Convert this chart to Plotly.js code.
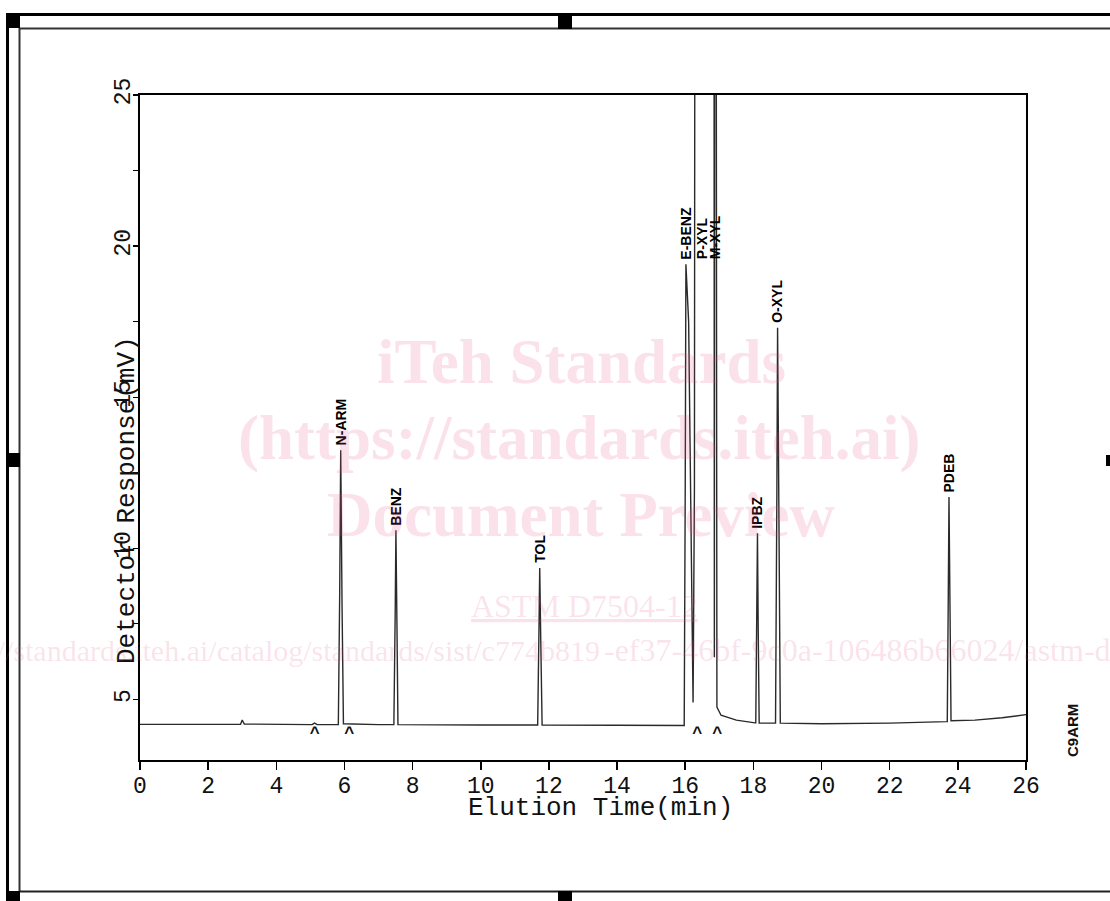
<!DOCTYPE html>
<html>
<head>
<meta charset="utf-8">
<script src="https://cdn.plot.ly/plotly-3.0.1.min.js"></script>
<style>
  html, body { margin: 0; padding: 0; background: #ffffff; }
  #chart { width: 1110px; height: 901px; }
</style>
</head>
<body>
<div id="chart"></div>
<script>
// ---------------- DATA ----------------
// Elution time (min) and detector response (mV) of the trace
const time = [
  0.00, 2.95, 3.00, 3.06, 5.05, 5.12, 5.20,
  5.82, 5.86, 5.89, 5.93, 5.97,
  7.00, 7.45, 7.49, 7.51, 7.54, 7.57,
  10.00, 11.67, 11.71, 11.73, 11.76, 11.80,
  14.00, 15.97, 16.00, 16.02, 16.10, 16.17, 16.23, 16.27, 16.29,
  16.84, 16.855, 16.87, 16.90, 16.93, 17.05, 17.50, 18.05,
  18.07, 18.10, 18.12, 18.14, 18.17,
  18.60, 18.65, 18.69, 18.71, 18.75, 18.79,
  20.00, 22.00, 23.67, 23.69, 23.72, 23.74, 23.77, 23.80,
  24.50, 25.30, 26.00
];
const response = [
  4.18, 4.18, 4.32, 4.19, 4.17, 4.22, 4.17,
  4.17, 8.50, 13.25, 8.00, 4.20,
  4.17, 4.17, 8.00, 10.60, 7.50, 4.17,
  4.16, 4.16, 7.50, 9.35, 7.00, 4.16,
  4.15, 4.14, 12.00, 19.40, 17.50, 11.00, 4.90, 12.00, 40.00,
  40.00, 6.40, 40.00, 40.00, 4.75, 4.48, 4.32, 4.23,
  4.23, 8.00, 10.50, 7.50, 4.22,
  4.22, 4.22, 12.00, 17.30, 11.00, 4.22,
  4.20, 4.22, 4.27, 4.27, 8.50, 11.70, 8.00, 4.30,
  4.32, 4.40, 4.50
];

// Peak identification labels
const peakNames    = ["N-ARM", "BENZ", "TOL", "E-BENZ", "P-XYL", "M-XYL", "IPBZ", "O-XYL", "PDEB"];
const labelTimes   = [5.89, 7.51, 11.73, 16.02, 16.49, 16.87, 18.12, 18.71, 23.74];
const labelHeights = [13.25, 10.60, 9.35, 19.40, 19.40, 19.40, 10.50, 17.30, 11.70];

// Integration markers (^) under the baseline
const caretTimes = [5.13, 6.14, 16.35, 16.94];
const caretLevel = [3.88, 3.88, 3.88, 3.88];

// Texts
const xTitle = "Elution Time(min)";
const yTitle = "Detector Response(mV)";
const sampleName = "C9ARM";
const watermarkLines = ["iTeh Standards", "(https://standards.iteh.ai)", "Document Preview"];
const watermarkStd = "ASTM D7504-12";
const watermarkUrlA = "https://standards.iteh.ai/catalog/standards/sist/c774b819";
const watermarkUrlB = "-ef37-46bf-9c0a-106486b66024/astm-d7504-12";

// ---------------- LAYOUT GEOMETRY ----------------
const W = 1110, H = 901;
const ML = 140, MT = 95, MR = 84, MB = 141;
const PW = W - ML - MR, PH = H - MT - MB;
const px = x => (x - ML) / PW;
const py = y => (MT + PH - y) / PH;

const MONO = "Liberation Mono, Courier New, monospace";
const SANS = "Liberation Sans, Arial, sans-serif";
const SERIF = "Liberation Serif, Times New Roman, serif";
const WM = "rgba(225,80,130,0.17)";

const traces = [
  {
    x: time, y: response, type: "scatter", mode: "lines",
    line: { color: "#2a2a2a", width: 1.4 },
    hoverinfo: "skip", showlegend: false
  },
  {
    x: caretTimes, y: caretLevel, type: "scatter", mode: "text",
    text: caretTimes.map(() => "<b>^</b>"),
    textfont: { family: SANS, size: 17, color: "#111" },
    textposition: "middle center", cliponaxis: false,
    hoverinfo: "skip", showlegend: false
  }
];

const annotations = [];
// peak labels
peakNames.forEach((name, i) => {
  annotations.push({
    x: labelTimes[i], y: labelHeights[i], xref: "x", yref: "y",
    text: name, textangle: -90, showarrow: false,
    xanchor: "center", yanchor: "bottom", yshift: 3,
    font: { family: SANS, size: 14, color: "#000", weight: 600 }
  });
});
// axis titles
annotations.push({
  x: px(600), y: py(808), xref: "paper", yref: "paper", showarrow: false,
  text: xTitle, xanchor: "center", yanchor: "middle",
  font: { family: MONO, size: 26, color: "#111" }
});
annotations.push({
  x: px(127), y: py(500), xref: "paper", yref: "paper", showarrow: false,
  text: yTitle, textangle: -90, xanchor: "center", yanchor: "middle",
  font: { family: MONO, size: 26, color: "#111" }
});
// sample name
annotations.push({
  x: px(1072), y: py(731), xref: "paper", yref: "paper", showarrow: false,
  text: sampleName, textangle: -90, xanchor: "center", yanchor: "middle",
  font: { family: SANS, size: 15, color: "#111", weight: 600 }
});
// watermark
const wmY = [362, 438, 515];
const wmX = [581, 579, 581];
watermarkLines.forEach((t, i) => {
  annotations.push({
    x: px(wmX[i]), y: py(wmY[i]), xref: "paper", yref: "paper", showarrow: false,
    text: "<b>" + t + "</b>", xanchor: "center", yanchor: "middle",
    font: { family: SERIF, size: 63, color: WM }
  });
});
annotations.push({
  x: px(584), y: py(606), xref: "paper", yref: "paper", showarrow: false,
  text: "<u>" + watermarkStd + "</u>", xanchor: "center", yanchor: "middle",
  font: { family: SERIF, size: 32, color: WM }
});
annotations.push({
  x: px(602), y: py(650), xref: "paper", yref: "paper", showarrow: false,
  text: watermarkUrlA, xanchor: "right", yanchor: "middle",
  font: { family: SERIF, size: 30, color: WM }
});
annotations.push({
  x: px(602), y: py(650), xref: "paper", yref: "paper", showarrow: false,
  text: watermarkUrlB, xanchor: "left", yanchor: "middle",
  font: { family: SERIF, size: 32, color: WM }
});

// page frame (scanned border) as shapes
const shapes = [];
function rect(x0, y0, x1, y1) {
  shapes.push({ type: "rect", xref: "paper", yref: "paper",
    x0: px(x0), x1: px(x1), y0: py(y0), y1: py(y1),
    fillcolor: "#000", line: { width: 0 }, layer: "above" });
}
function hline(y, x0, x1, w, c) {
  shapes.push({ type: "line", xref: "paper", yref: "paper",
    x0: px(x0), x1: px(x1), y0: py(y), y1: py(y),
    line: { color: c, width: w }, layer: "above" });
}
function vline(x, y0, y1, w, c) {
  shapes.push({ type: "line", xref: "paper", yref: "paper",
    x0: px(x), x1: px(x), y0: py(y0), y1: py(y1),
    line: { color: c, width: w }, layer: "above" });
}
hline(14.5, 6, 1110, 3, "#000");
hline(28.5, 20, 1110, 2, "#333");
vline(7.5, 13, 901, 3, "#000");
vline(19.5, 28, 891, 2, "#333");
hline(891.5, 20, 1110, 2, "#222");
rect(6, 13, 20, 28);
rect(558, 13, 572, 29);
rect(6, 453, 20, 467);
rect(6, 891, 20, 901);
rect(558, 891, 572, 901);
rect(1106, 455, 1110, 466);

const layout = {
  width: W, height: H,
  margin: { l: ML, r: MR, t: MT, b: MB, pad: 0 },
  paper_bgcolor: "#ffffff", plot_bgcolor: "#ffffff",
  showlegend: false,
  xaxis: {
    range: [0, 26], dtick: 2, tick0: 0,
    showgrid: false, zeroline: false,
    showline: true, linecolor: "#000", linewidth: 2, mirror: true,
    ticks: "outside", ticklen: 8, tickwidth: 1.5, tickcolor: "#000",
    ticklabelstandoff: -5,
    tickfont: { family: MONO, size: 23, color: "#111" }
  },
  yaxis: {
    range: [3, 25], dtick: 5, tick0: 0,
    showgrid: false, zeroline: false,
    showline: true, linecolor: "#000", linewidth: 2, mirror: true,
    ticks: "outside", ticklen: 5, tickwidth: 1.5, tickcolor: "#000",
    tickangle: -90, ticklabelstandoff: -6,
    tickfont: { family: MONO, size: 23, color: "#111" },
    minor: { dtick: 2.5, tick0: 0, ticks: "outside", ticklen: 5, tickwidth: 1, tickcolor: "#000", showgrid: false }
  },
  annotations: annotations,
  shapes: shapes
};

Plotly.newPlot("chart", traces, layout, { displayModeBar: false, staticPlot: true });
</script>
</body>
</html>
